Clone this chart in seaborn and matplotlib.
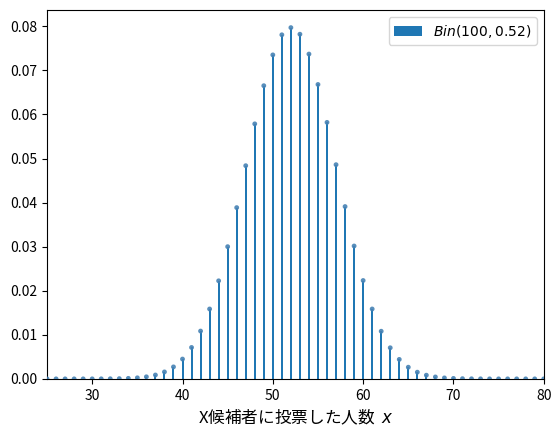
import matplotlib
matplotlib.use("Agg")
import matplotlib.pyplot as plt
import seaborn as sns
import pandas as pd

x_values = list(range(25, 81))
pmf_values = [
    0.000000024, 0.000000074, 0.00000022, 0.00000062, 0.0000017,  # 25-29
    0.0000043, 0.0000106, 0.0000247, 0.0000551, 0.000118,         # 30-34
    0.000240, 0.000470, 0.000881, 0.00158, 0.00272,               # 35-39
    0.00450, 0.00713, 0.01085, 0.01586, 0.02225,                  # 40-44
    0.03000, 0.03886, 0.04837, 0.05786, 0.06652,                  # 45-49
    0.07351, 0.07807, 0.0797, 0.0782, 0.0737,                     # 50-54
    0.0668, 0.0582, 0.0486, 0.0391, 0.03015,                      # 55-59
    0.02232, 0.01586, 0.01081, 0.00706, 0.00442,                  # 60-64
    0.00265, 0.00152, 0.000837, 0.000440, 0.000221,               # 65-69
    0.000106, 0.0000486, 0.0000212, 0.0000088, 0.0000035,         # 70-74
    0.0000013, 0.00000048, 0.00000017, 0.00000006, 0.00000002,    # 75-79
    0.000000006,                                                  # 80
]
legend_label = r"$Bin(100, 0.52)$"
xlabel_text = "X候補者に投票した人数  $x$"
xticks = [30, 40, 50, 60, 70, 80]

df = pd.DataFrame({"x": x_values, "p": pmf_values})

plt.rcParams["font.family"] = ["Noto Sans CJK JP", "DejaVu Sans"]
plt.rcParams["mathtext.fontset"] = "dejavusans"

fig, ax = plt.subplots(figsize=(5.6, 4.37), dpi=100)
fig.subplots_adjust(left=0.084, right=0.971, top=0.977, bottom=0.133)

ax.bar(df["x"], df["p"], width=0.22, color="#1f77b4", label=legend_label)
sns.scatterplot(data=df, x="x", y="p", ax=ax, color="#4682b4", s=12,
                edgecolor="none", alpha=0.9, legend=False, zorder=3)

ax.set_xlim(25, 80)
ax.set_ylim(0, max(pmf_values) * 1.05)
ax.set_xticks(xticks)
ax.set_xlabel(xlabel_text, fontsize=12)
ax.set_ylabel("")
ax.tick_params(labelsize=10)
leg = ax.legend(loc="upper right", fontsize=10)
for t in leg.get_texts():
    t.set_fontfamily("DejaVu Sans")

fig.savefig("out.png", dpi=100)
